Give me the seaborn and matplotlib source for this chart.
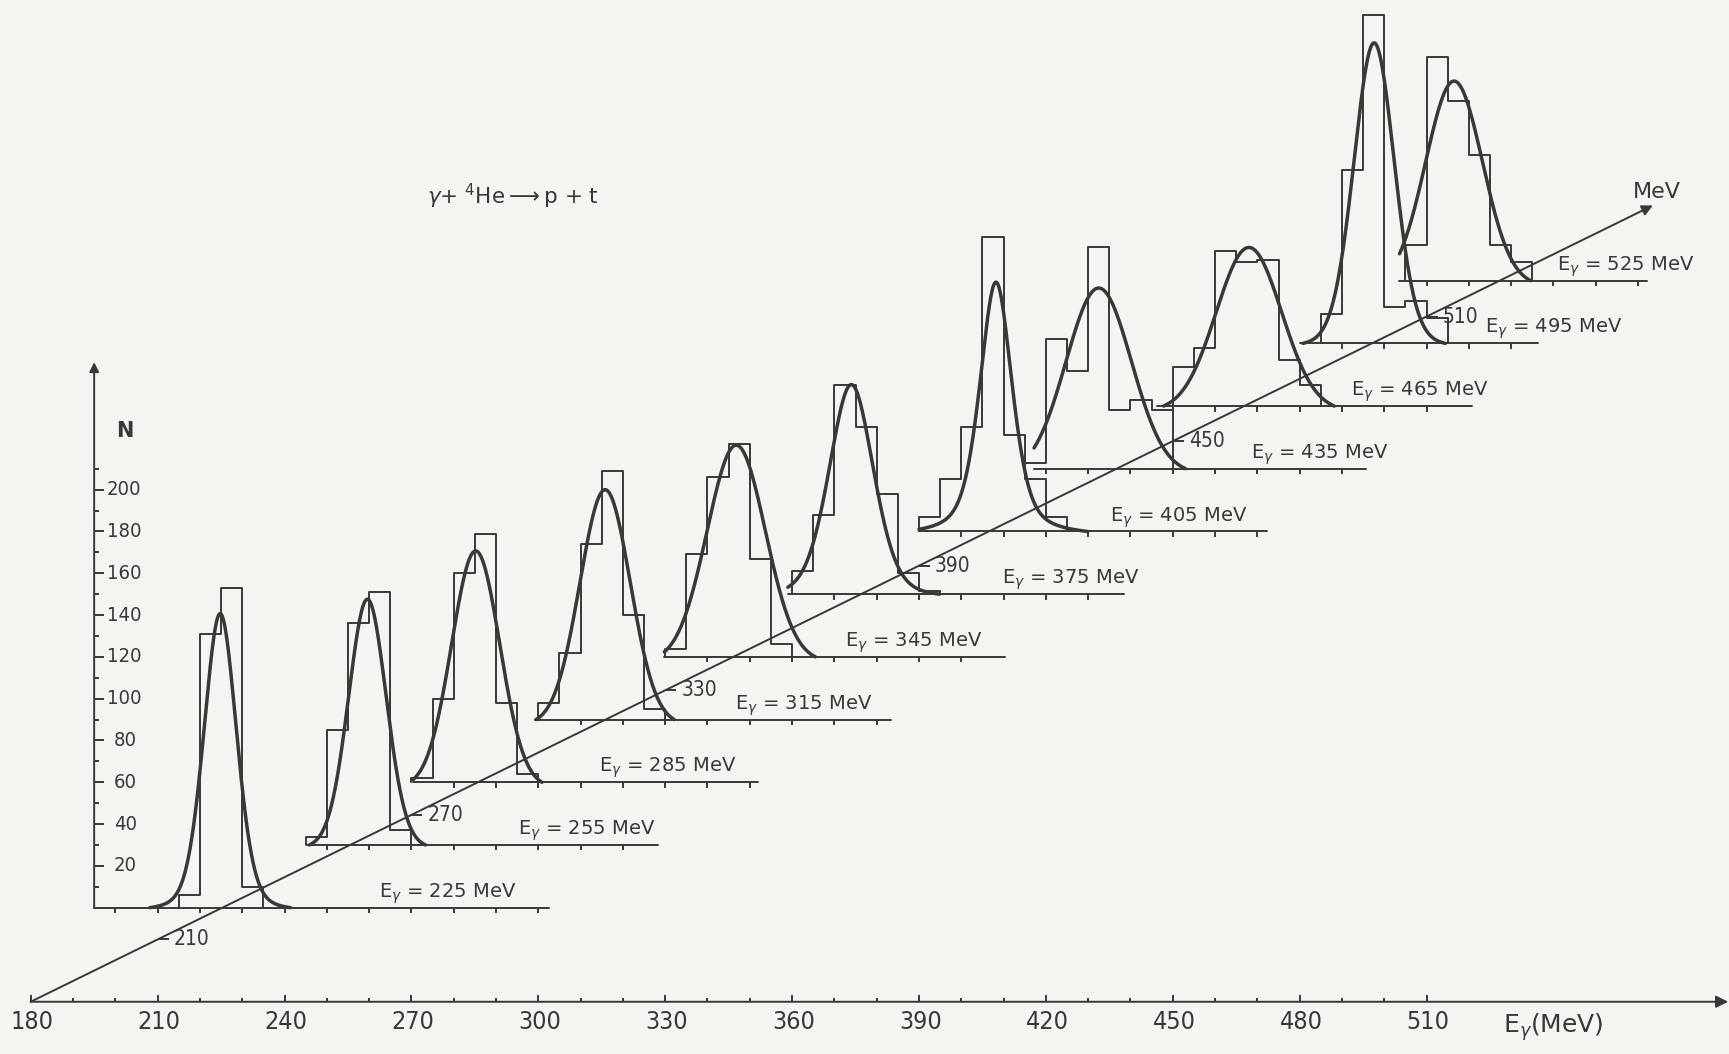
import numpy as np
import matplotlib
matplotlib.use("Agg")
import matplotlib.pyplot as plt
import seaborn as sns

# ---------------------------------------------------------------- data
# nominal photon energies of the eleven spectra (MeV)
e_gamma = [225, 255, 285, 315, 345, 375, 405, 435, 465, 495, 525]

# counts per 5 MeV bin; first bin starts at bin_start
BIN_WIDTH = 5
bin_start = [215, 245, 270, 300, 330, 360, 390, 415, 450, 485, 505]
counts_225 = [6, 131, 153, 10]
counts_255 = [4, 55, 106, 121, 7]
counts_285 = [2, 40, 100, 119, 38, 4]
counts_315 = [8, 32, 84, 119, 50, 5]
counts_345 = [4, 49, 86, 102, 47, 6]
counts_375 = [11, 38, 100, 80, 48, 10, 1.5]
counts_405 = [7, 25, 50, 141, 46, 25, 7]
counts_435 = [3, 62, 47, 106, 28, 33, 28]
counts_465 = [18.5, 28, 74, 69, 70, 22, 10]
counts_495 = [14, 83, 157, 17.5, 20.5, 12]
counts_525 = [17, 107, 86, 60, 17, 9]
counts = [counts_225, counts_255, counts_285, counts_315, counts_345, counts_375,
          counts_405, counts_435, counts_465, counts_495, counts_525]

# fitted line shape of every spectrum: centre, height, FWHM, Lorentz fraction
fit_center = [224.8, 259.6, 285.2, 315.8, 346.8, 374.0, 408.2, 432.5, 468.0, 497.6, 516.5]
fit_height = [140.7, 117.6, 110.7, 110.0, 101.3, 100.3, 119.3, 86.5, 75.9, 143.8, 95.5]
fit_fwhm = [9.2, 10.6, 13.4, 14.0, 16.2, 12.5, 9.1, 18.2, 18.2, 11.4, 15.8]
fit_eta = [0.25, 0.1, 0.0, 0.0, 0.0, 0.3, 0.5, 0.0, 0.0, 0.15, 0.0]

# scale annotations
axis_ticks = list(range(180, 511, 10))
axis_labels = [180, 210, 240, 270, 300, 330, 360, 390, 420, 450, 480, 510]
diag_labels = [210, 270, 330, 390, 450, 510]
n_labels = [20, 40, 60, 80, 100, 120, 140, 160, 180, 200]

# ---------------------------------------------------------------- layout
base_lo = [195, 245.4, 270.4, 299.2, 329.8, 359, 390, 417.2, 446.3, 480, 503.6]
base_hi = [302.6, 328.3, 352, 383.5, 410.3, 438.5, 472.3, 495.6, 520.7, 536.4, 562]
label_x = [262.3, 295.2, 314.4, 346.4, 372.5, 409.6, 435.2, 468.6, 492.1, 523.8, 540.8]

INK = "#383838"
PAPER = "#f4f4f1"
THIN = 1.4
THICK = 2.5
N_AXIS_X = 195.0
DIAG_END = 563.5
DIAG_K = 381.0 / (DIAG_END - 180.0)
CURVE_FLOOR = 2.5   # the drawn fit is brought down to the base line at this level

sns.set_theme(style="white", rc={"axes.facecolor": PAPER, "figure.facecolor": PAPER})
plt.rcParams["font.family"] = ["DejaVu Sans"]
plt.rcParams["mathtext.fontset"] = "dejavusans"

fig = plt.figure(figsize=(17.29, 10.54), dpi=100)
ax = fig.add_axes([0, 0, 1, 1])
ax.set_xlim(172.74, 581.5)
ax.set_ylim(-25.0, 479.3)
ax.set_axis_off()

NUM = dict(color=INK, fontstretch="condensed")


def arrow(start, tip, scale=16):
    ax.annotate("", xy=tip, xytext=start,
                arrowprops=dict(arrowstyle="-|>", lw=THIN, color=INK,
                                mutation_scale=scale, shrinkA=0, shrinkB=0))


# bottom energy axis
arrow((180, 0), (581.3, 0), scale=18)
for t in axis_ticks:
    ax.vlines(t, 0, 3.4 if t in axis_labels else 2.0, color=INK, lw=THIN)
for t in axis_labels:
    ax.text(t + 0.3, -9.6, str(t), ha="center", va="center", fontsize=18, **NUM)
ax.text(528.1, -12.0, r"E$_{\gamma}$(MeV)", ha="left", va="center", fontsize=18, color=INK)

# diagonal axis of the nominal photon energy
arrow((180, 0), (DIAG_END, DIAG_K * (DIAG_END - 180)), scale=16)
for t in diag_labels:
    y = DIAG_K * (t - 180)
    ax.hlines(y, t, t + 2.6, color=INK, lw=THIN)
    ax.text(t + 3.8, y, str(t), ha="left", va="center", fontsize=15, **NUM)
ax.text(558.8, 387.6, "MeV", ha="left", va="center", fontsize=16, color=INK)

# vertical count axis, zero at the first spectrum's base line
n0 = e_gamma[0] - 180
arrow((N_AXIS_X, n0), (N_AXIS_X, 306), scale=14)
for n in range(10, 211, 10):
    ax.hlines(n0 + n, N_AXIS_X, N_AXIS_X + (2.3 if n in n_labels else 1.2), color=INK, lw=THIN)
for n in n_labels:
    ax.text(198.0 if n >= 100 else 199.6, n0 + n, str(n), ha="left", va="center",
            fontsize=14.5, **NUM)
ax.text(200.1, 273, "N", ha="left", va="center", fontsize=15, color=INK, fontweight="bold")

# reaction
ax.text(273.8, 385.2, r"$\gamma$+ $^{4}$He$\longrightarrow$p + t", ha="left", va="center",
        fontsize=15.5, color=INK)

# spectra
for i, e in enumerate(e_gamma):
    base = e - 180
    c = np.asarray(counts[i], float)
    edges = bin_start[i] + BIN_WIDTH * np.arange(len(c) + 1)

    # base line with downward ticks every 10 MeV
    ax.plot([base_lo[i], base_hi[i]], [base, base], color=INK, lw=THIN)
    ticks = [t for t in range(0, 600, 10) if base_lo[i] + 2 <= t <= base_hi[i] - 2]
    ax.vlines(ticks, base - 2.6, base, color=INK, lw=THIN)

    # histogram outline
    xs = np.repeat(edges, 2)
    ys = base + np.concatenate([[0.0], np.repeat(c, 2), [0.0]])
    sns.lineplot(x=xs, y=ys, sort=False, estimator=None, color=INK, lw=THIN, ax=ax)

    # fitted curve, its tails eased onto the base line
    mu, h, w, eta = fit_center[i], fit_height[i], fit_fwhm[i], fit_eta[i]
    xx = np.linspace(max(base_lo[i], mu - 3 * w), mu + 3 * w, 1200)
    u = (xx - mu) / w
    yy = h * (eta / (1 + 4 * u ** 2) + (1 - eta) * np.exp(-4 * np.log(2) * u ** 2))
    keep = yy >= CURVE_FLOOR
    drawn = (yy[keep] - CURVE_FLOOR) * h / (h - CURVE_FLOOR)
    sns.lineplot(x=xx[keep], y=base + drawn, sort=False, estimator=None, color=INK,
                 lw=THICK, ax=ax)

    ax.text(label_x[i], base + 4.9, rf"E$_{{\gamma}}$ = {e} MeV", ha="left",
            va="baseline", fontsize=14, color=INK)

fig.savefig("out.png", dpi=100, facecolor=PAPER)
